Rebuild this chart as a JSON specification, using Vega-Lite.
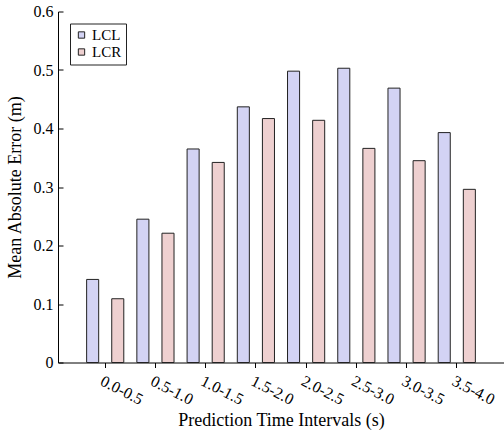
{
  "$schema": "https://vega.github.io/schema/vega-lite/v6.json",
  "width": 446,
  "height": 351,
  "autosize": {"type": "none"},
  "padding": {"left": 58, "top": 11.5, "right": 0, "bottom": 72},
  "background": "white",
  "data": {
    "values": [
      {"interval": "0.0-0.5", "method": "LCL", "mae": 0.142},
      {"interval": "0.0-0.5", "method": "LCR", "mae": 0.109},
      {"interval": "0.5-1.0", "method": "LCL", "mae": 0.245},
      {"interval": "0.5-1.0", "method": "LCR", "mae": 0.221},
      {"interval": "1.0-1.5", "method": "LCL", "mae": 0.365},
      {"interval": "1.0-1.5", "method": "LCR", "mae": 0.342},
      {"interval": "1.5-2.0", "method": "LCL", "mae": 0.437},
      {"interval": "1.5-2.0", "method": "LCR", "mae": 0.417},
      {"interval": "2.0-2.5", "method": "LCL", "mae": 0.498},
      {"interval": "2.0-2.5", "method": "LCR", "mae": 0.414},
      {"interval": "2.5-3.0", "method": "LCL", "mae": 0.503},
      {"interval": "2.5-3.0", "method": "LCR", "mae": 0.366},
      {"interval": "3.0-3.5", "method": "LCL", "mae": 0.469},
      {"interval": "3.0-3.5", "method": "LCR", "mae": 0.345},
      {"interval": "3.5-4.0", "method": "LCL", "mae": 0.393},
      {"interval": "3.5-4.0", "method": "LCR", "mae": 0.296}
    ]
  },
  "mark": {"type": "bar", "stroke": "#222222", "strokeWidth": 1},
  "encoding": {
    "x": {
      "field": "interval",
      "type": "nominal",
      "sort": null,
      "scale": {"paddingInner": 0, "paddingOuter": 0.44},
      "axis": {
        "title": "Prediction Time Intervals (s)",
        "labelAngle": 27,
        "labelAlign": "left",
        "labelBaseline": "top",
        "labelPadding": 5,
        "labelFontSize": 16,
        "tickSize": 5,
        "titlePadding": 4
      }
    },
    "xOffset": {
      "field": "method",
      "type": "nominal",
      "scale": {"paddingInner": 0.52, "paddingOuter": 0.26}
    },
    "y": {
      "field": "mae",
      "type": "quantitative",
      "scale": {"domain": [0, 0.6], "nice": false},
      "axis": {
        "title": "Mean Absolute Error (m)",
        "values": [0, 0.1, 0.2, 0.3, 0.4, 0.5, 0.6],
        "format": "~g",
        "tickSize": -5,
        "labelPadding": 10,
        "labelFontSize": 16,
        "titlePadding": 9,
        "grid": false
      }
    },
    "fill": {
      "field": "method",
      "type": "nominal",
      "scale": {"domain": ["LCL", "LCR"], "range": ["#d3d3f4", "#eed0d0"]},
      "legend": {
        "title": null,
        "orient": "top-left",
        "offset": 12,
        "padding": 4,
        "strokeColor": "#222222",
        "fillColor": "white",
        "symbolType": "square",
        "symbolSize": 40,
        "symbolStrokeColor": "#222222",
        "symbolStrokeWidth": 1,
        "labelFont": "Liberation Serif",
        "labelFontSize": 15,
        "labelColor": "black",
        "labelOffset": 3,
        "rowPadding": 1
      }
    }
  },
  "config": {
    "view": {"stroke": null},
    "axis": {
      "labelFont": "Liberation Serif",
      "labelFontSize": 15,
      "labelColor": "black",
      "titleFont": "Liberation Serif",
      "titleFontSize": 18,
      "titleFontWeight": "normal",
      "titleColor": "black",
      "domainColor": "black",
      "tickColor": "black",
      "domainWidth": 1,
      "tickWidth": 1
    }
  }
}
